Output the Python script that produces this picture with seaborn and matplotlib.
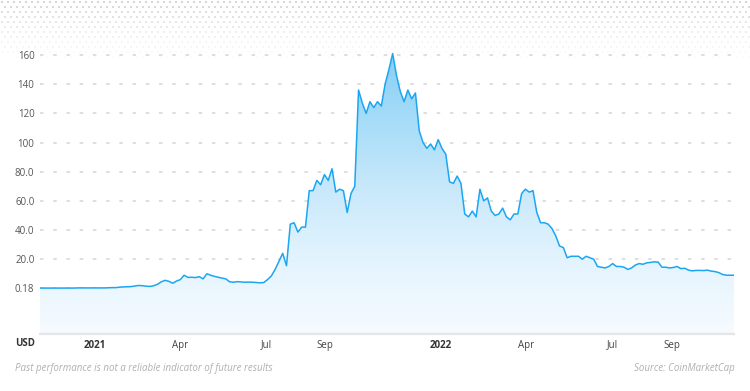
import numpy as np
import pandas as pd
import matplotlib
matplotlib.use("Agg")
import matplotlib.pyplot as plt
import matplotlib.dates as mdates
from matplotlib.colors import LinearSegmentedColormap
from matplotlib.patches import Polygon
import seaborn as sns

# price series, one value every 4 days from START_DATE (chart units)
START_DATE = "2020-11-04"
STEP = "4D"
price = [
    0.2, 0.2, 0.2, 0.2, 0.2, 0.2, 0.2, 0.2, 0.2, 0.2,
    0.3, 0.3, 0.3, 0.3, 0.3, 0.3, 0.3, 0.3, 0.4, 0.5,
    0.5, 0.8, 1.0, 1.1, 1.2, 1.6, 2.0, 1.8, 1.5, 1.3,
    1.8, 2.8, 4.5, 5.5, 4.8, 3.5, 5.0, 6.0, 9.0, 7.5,
    7.6, 7.4, 8.0, 6.5, 10.0, 9.0, 8.2, 7.6, 7.0, 6.5,
    4.5, 4.2, 4.6, 4.4, 4.2, 4.3, 4.2, 4.0, 3.8, 4.0,
    6.0, 8.5, 13.0, 18.5, 24.0, 15.5, 44.0, 45.0, 38.6, 42.0,
    42.0, 67.0, 67.0, 74.0, 71.0, 78.0, 74.0, 82.0, 66.0, 68.0,
    67.0, 52.0, 65.0, 70.0, 136.0, 127.0, 120.0, 128.0, 124.0, 128.0,
    125.0, 140.0, 150.0, 161.0, 146.0, 135.0, 128.0, 136.0, 130.0, 134.0,
    108.0, 100.0, 96.0, 99.0, 95.0, 102.0, 96.0, 92.0, 73.0, 72.0,
    77.0, 72.0, 51.0, 49.0, 53.0, 49.0, 68.0, 60.0, 62.0, 53.0,
    50.0, 51.0, 55.0, 49.0, 47.0, 51.0, 51.0, 65.0, 68.0, 66.0,
    67.0, 52.0, 45.0, 45.0, 44.0, 41.0, 36.0, 29.0, 28.0, 21.0,
    22.0, 22.0, 22.0, 20.0, 22.0, 21.0, 20.0, 15.0, 14.5, 14.0,
    15.0, 17.0, 15.0, 15.0, 14.5, 13.0, 14.0, 16.0, 17.0, 16.5,
    17.5, 17.8, 18.2, 18.0, 14.5, 14.5, 14.0, 14.3, 15.0, 13.5,
    13.8, 12.5, 12.0, 12.3, 12.3, 12.2, 12.5, 11.8, 11.5, 10.8,
    9.5, 9.0, 9.0, 9.0,
]

y_ticks = [-20, 0, 20, 40, 60, 80, 100, 120, 140, 160]
y_labels = ["", "0.18", "20.0", "40.0", "60.0", "80.0", "100", "120", "140", "160"]
x_ticks = ["2021-01-01", "2021-04-01", "2021-07-01", "2021-09-01",
           "2022-01-01", "2022-04-01", "2022-07-01", "2022-09-01"]
x_labels = ["2021", "Apr", "Jul", "Sep", "2022", "Apr", "Jul", "Sep"]
year_labels = ["2021", "2022"]

Y_MIN, Y_MAX = -31.3, 170.3

sns.set_theme(style="white")
plt.rcParams["font.family"] = ["Open Sans", "DejaVu Sans"]

dates = pd.date_range(START_DATE, periods=len(price), freq=STEP)
df = pd.DataFrame({"date": dates, "price": price})

fig = plt.figure(figsize=(7.5, 3.91), dpi=100)

# dotted background band at the top
bg = fig.add_axes([0, 0, 1, 1], zorder=0)
bg.set_xlim(0, 750)
bg.set_ylim(391, 0)
bg.axis("off")
rows = np.arange(1.5, 64, 5.0)
for k, yy in enumerate(rows):
    xs = np.arange(1.5 + (k % 2) * 3, 750, 6.0)
    a = float(np.clip(1 - yy / 64, 0, 1)) ** 1.4
    bg.scatter(xs, np.full_like(xs, yy), s=0.7, marker="s", color="#d4d4d4",
               alpha=a, linewidths=0)

ax = fig.add_axes([40 / 750, 57 / 391, 694 / 750, 294 / 391], zorder=1)
ax.patch.set_alpha(0)

sns.lineplot(data=df, x="date", y="price", color="#1ba6f2", linewidth=1.1,
             ax=ax, zorder=4)

# gradient fill under the line
xn = mdates.date2num(dates)
verts = np.column_stack([np.r_[xn[0], xn, xn[-1]],
                         np.r_[Y_MIN, price, Y_MIN]])
patch = Polygon(verts, closed=True, facecolor="none", edgecolor="none")
ax.add_patch(patch)
cmap = LinearSegmentedColormap.from_list(
    "fill", ["#f6fbff", "#e4f4fe", "#c9e9fb", "#a6dcf8", "#84cdf5"])
grad = np.linspace(0, 1, 256).reshape(-1, 1)
im = ax.imshow(grad, extent=[xn[0], xn[-1], Y_MIN, 165], origin="lower",
               aspect="auto", cmap=cmap, zorder=2)
im.set_clip_path(patch)

ax.set_xlim(xn[0], xn[-1])
ax.set_ylim(Y_MIN, Y_MAX)

ax.set_yticks(y_ticks)
ax.set_yticklabels(y_labels)
ax.set_xticks(mdates.date2num(pd.to_datetime(x_ticks)))
ax.set_xticklabels(x_labels)
ax.set_xlabel("")
ax.set_ylabel("")

ax.grid(axis="y", color="#dedede", linewidth=1.4, linestyle=(0, (1.8, 5.0)))
ax.set_axisbelow(True)
ax.tick_params(axis="y", length=0, pad=4, labelsize=7, labelcolor="#555555")
ax.tick_params(axis="x", length=0, pad=4, labelsize=7, labelcolor="#444444")
for lab in ax.get_xticklabels():
    if lab.get_text() in year_labels:
        lab.set_fontweight("bold")
        lab.set_color("#333333")

for side in ["top", "right", "left"]:
    ax.spines[side].set_visible(False)
ax.spines["bottom"].set_color("#e6e6e6")
ax.spines["bottom"].set_linewidth(1.6)

fig.text(35 / 750, 1 - 344 / 391, "USD", ha="right", va="center",
         fontsize=7, fontweight="bold", color="#333333")
fig.text(15 / 750, 1 - 369 / 391,
         "Past performance is not a reliable indicator of future results",
         ha="left", va="center", fontsize=7, style="italic", color="#b0b0b0")
fig.text(735 / 750, 1 - 369 / 391, "Source: CoinMarketCap",
         ha="right", va="center", fontsize=7, style="italic", color="#b0b0b0")

fig.savefig("out.png", dpi=100)
